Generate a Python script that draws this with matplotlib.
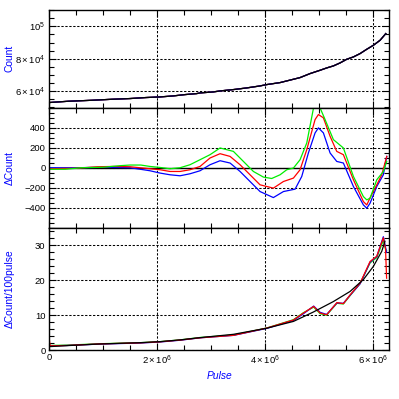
import numpy as np
import matplotlib
matplotlib.use("Agg")
import matplotlib.pyplot as plt
from matplotlib.ticker import MultipleLocator

# ---------------- data ----------------
# Top panel: Count vs Pulse
top_pulse = [0, 0.358e6, 0.802e6, 1.173e6, 1.5e6, 1.79e6, 2.056e6, 2.302e6, 2.52e6, 2.735e6,
             2.796e6, 3.043e6, 3.167e6, 3.414e6, 3.661e6, 3.907e6, 4.031e6, 4.278e6, 4.525e6,
             4.648e6, 4.833e6, 5.019e6, 5.142e6, 5.265e6, 5.389e6, 5.512e6, 5.636e6, 5.759e6,
             5.883e6, 6.006e6, 6.13e6, 6.235e6]
top_count = [53050, 53850, 54460, 55080, 55510, 56120, 56510, 57130, 57950, 58560,
             58970, 59590, 60200, 61030, 62050, 63280, 64100, 65330, 67380,
             68410, 70870, 72920, 74360, 75590, 77440, 79690, 81130, 83180,
             85850, 88310, 91380, 95490]

# Middle panel: delta Count
mid_black_pulse = [0, 6.26e6]
mid_black = [0, 0]

mid_blue_pulse = [0, 0.5e6, 1.0e6, 1.5e6, 1.75e6, 1.87e6, 2.056e6, 2.24e6, 2.426e6, 2.61e6,
                  2.796e6, 2.981e6, 3.167e6, 3.352e6, 3.537e6, 3.722e6, 3.907e6, 4.154e6,
                  4.34e6, 4.556e6, 4.679e6, 4.802e6, 4.926e6, 4.988e6, 5.08e6, 5.204e6,
                  5.327e6, 5.45e6, 5.636e6, 5.82e6, 5.883e6, 5.944e6, 6.068e6, 6.19e6, 6.253e6]
mid_blue = [0, 0, 5, 0, -20, -30, -53, -70, -80, -60,
            -30, 30, 70, 47, -37, -137, -237, -297,
            -237, -213, -87, 147, 347, 397, 347, 147,
            63, 47, -187, -370, -403, -353, -187, -70, 113]

mid_red_pulse = [0, 0.5e6, 0.9e6, 1.2e6, 1.5e6, 1.87e6, 2.056e6, 2.24e6, 2.426e6, 2.61e6,
                 2.796e6, 2.981e6, 3.167e6, 3.352e6, 3.537e6, 3.722e6, 3.907e6, 4.154e6,
                 4.34e6, 4.525e6, 4.648e6, 4.772e6, 4.926e6, 4.988e6, 5.08e6, 5.204e6,
                 5.327e6, 5.45e6, 5.636e6, 5.82e6, 5.883e6, 5.944e6, 6.068e6, 6.16e6, 6.253e6]
mid_red = [-10, -5, 10, 13, 10, -10, -20, -37, -37, -20,
           13, 97, 140, 113, 30, -70, -170, -203,
           -137, -103, -20, 180, 480, 530, 497, 313,
           163, 130, -120, -337, -370, -300, -170, -70, 113]

mid_green_pulse = [0, 0.3e6, 0.6e6, 1.0e6, 1.3e6, 1.5e6, 1.7e6, 1.87e6, 2.056e6, 2.24e6,
                   2.426e6, 2.61e6, 2.796e6, 2.981e6, 3.167e6, 3.414e6, 3.599e6, 3.784e6,
                   3.969e6, 4.123e6, 4.278e6, 4.401e6, 4.525e6, 4.648e6, 4.772e6, 4.895e6,
                   5.019e6, 5.111e6, 5.265e6, 5.45e6, 5.636e6, 5.82e6, 5.883e6, 5.944e6,
                   6.068e6, 6.19e6, 6.253e6]
mid_green = [-15, -15, 0, 5, 20, 27, 27, 13, 3, -10,
             0, 30, 80, 130, 197, 163, 63, -37,
             -93, -107, -70, -20, -3, 80, 247, 590,
             595, 480, 280, 197, -87, -287, -320, -303,
             -120, -37, 63]

# Bottom panel: delta Count / 100 pulse
bot_black_pulse = [0, 0.33e6, 0.944e6, 1.685e6, 2.056e6, 2.426e6, 2.8e6, 3.414e6, 4.031e6,
                   4.525e6, 4.895e6, 5.265e6, 5.574e6, 5.82e6, 6.006e6, 6.16e6, 6.22e6]
bot_black = [0.96, 1.25, 1.73, 2.1, 2.4, 2.9, 3.55, 4.5, 6.25,
             8.2, 10.9, 13.9, 16.8, 20.2, 24.0, 28.3, 31.2]

bot_pulse = [0, 0.02e6, 0.33e6, 0.944e6, 1.685e6, 2.056e6, 2.426e6, 2.8e6, 3.414e6, 4.031e6,
             4.525e6, 4.71e6, 4.9e6, 5.02e6, 5.14e6, 5.33e6, 5.45e6, 5.574e6, 5.76e6,
             5.944e6, 6.068e6, 6.19e6, 6.23e6, 6.25e6]
bot_blue = [1.2, 1.2, 1.3, 1.7, 2.0, 2.3, 2.8, 3.5, 4.2, 6.2,
            8.5, 10.4, 12.6, 10.8, 10.2, 13.5, 13.4, 15.7, 19.0,
            25.2, 26.8, 32.5, 29.5, 28.0]
bot_red = [3.8, 1.2, 1.3, 1.75, 2.05, 2.35, 2.85, 3.5, 4.2, 6.3,
           8.6, 10.6, 12.5, 10.6, 10.1, 13.6, 13.3, 15.8, 19.2,
           25.4, 26.9, 32.2, 29.0, 20.6]
bot_green = [1.3, 1.3, 1.4, 1.8, 2.1, 2.4, 2.9, 3.6, 4.3, 6.3,
             8.7, 10.7, 12.3, 10.4, 10.0, 13.4, 13.2, 15.6, 19.1,
             25.0, 26.5, 31.5, 29.0, 28.5]

# tick labels
x_ticks = [0, 2e6, 4e6, 6e6]
x_ticklabels = ["0", r"$2\times10^6$", r"$4\times10^6$", r"$6\times10^6$"]
top_yticks = [6e4, 8e4, 1e5]
top_yticklabels = [r"$6\times10^4$", r"$8\times10^4$", r"$10^5$"]
mid_yticks = [-400, -200, 0, 200, 400]
bot_yticks = [0, 10, 20, 30]

# ---------------- figure ----------------
plt.rcParams['font.family'] = ['Liberation Sans', 'DejaVu Sans']
plt.rcParams['mathtext.fontset'] = 'custom'
plt.rcParams['mathtext.rm'] = 'Liberation Sans'
plt.rcParams['mathtext.it'] = 'Liberation Sans:italic'
plt.rcParams['mathtext.bf'] = 'Liberation Sans:bold'
W = 399
fig = plt.figure(figsize=(W / 100, W / 100), dpi=100)

def frac(px):
    return px / W

left, right = frac(49), frac(389.3)
panels = [(10, 107.5), (107.5, 228), (228, 350)]
axes = []
for (t, b) in panels:
    ax = fig.add_axes([left, 1 - frac(b), right - left, frac(b - t)])
    axes.append(ax)
ax1, ax2, ax3 = axes

lw = 0.9
grid_kw = dict(color='black', linestyle=(0, (2.2, 1.6)), linewidth=0.75)
tick_fs = 6.8
lab_fs = 7.4

for ax in axes:
    ax.set_xlim(0, 6.3e6)
    ax.xaxis.set_major_locator(MultipleLocator(2e6))
    ax.xaxis.set_minor_locator(MultipleLocator(5e5))
    ax.tick_params(which='both', direction='in', top=True, right=True,
                   labelsize=tick_fs, width=0.8, pad=2.5)
    ax.tick_params(which='major', length=5)
    ax.tick_params(which='minor', length=3.5)
    for s in ax.spines.values():
        s.set_linewidth(1.0)
    ax.grid(True, which='major', **grid_kw)
    ax.set_facecolor('white')

# top
ax1.plot(top_pulse, top_count, color='green', lw=lw)
ax1.plot(top_pulse, top_count, color='red', lw=lw)
ax1.plot(top_pulse, top_count, color='blue', lw=lw)
ax1.plot(top_pulse, top_count, color='black', lw=lw)
ax1.set_ylim(5e4, 1.1e5)
ax1.set_yticks(top_yticks)
ax1.set_yticklabels(top_yticklabels)
ax1.yaxis.set_minor_locator(MultipleLocator(5000))
ax1.set_ylabel("Count", color='blue', fontsize=lab_fs)
ax1.tick_params(labelbottom=False)

# middle
ax2.plot(mid_black_pulse, mid_black, color='black', lw=1.0)
ax2.plot(mid_blue_pulse, mid_blue, color='blue', lw=lw)
ax2.plot(mid_red_pulse, mid_red, color='red', lw=lw)
ax2.plot(mid_green_pulse, mid_green, color='#00ee00', lw=lw)
ax2.set_ylim(-600, 600)
ax2.set_yticks(mid_yticks)
ax2.yaxis.set_minor_locator(MultipleLocator(50))
ax2.set_ylabel("\u0394Count", color='blue', fontsize=lab_fs)
ax2.tick_params(labelbottom=False)

# bottom
ax3.plot(bot_pulse, bot_green, color='#00ee00', lw=lw)
ax3.plot(bot_pulse, bot_blue, color='blue', lw=lw)
ax3.plot(bot_pulse, bot_red, color='red', lw=lw)
ax3.plot(bot_black_pulse, bot_black, color='black', lw=lw)
ax3.set_ylim(0, 35)
ax3.set_yticks(bot_yticks)
ax3.yaxis.set_minor_locator(MultipleLocator(2))
ax3.set_xticks(x_ticks)
ax3.set_xticklabels(x_ticklabels)
ax3.set_ylabel("\u0394Count/100pulse", color='blue', fontsize=lab_fs)
ax3.set_xlabel("Pulse", color='blue', fontsize=lab_fs, style='italic', labelpad=3)

for ax in axes:
    ax.yaxis.set_label_coords(-0.102, 0.5)

fig.savefig("out.png", dpi=100)
